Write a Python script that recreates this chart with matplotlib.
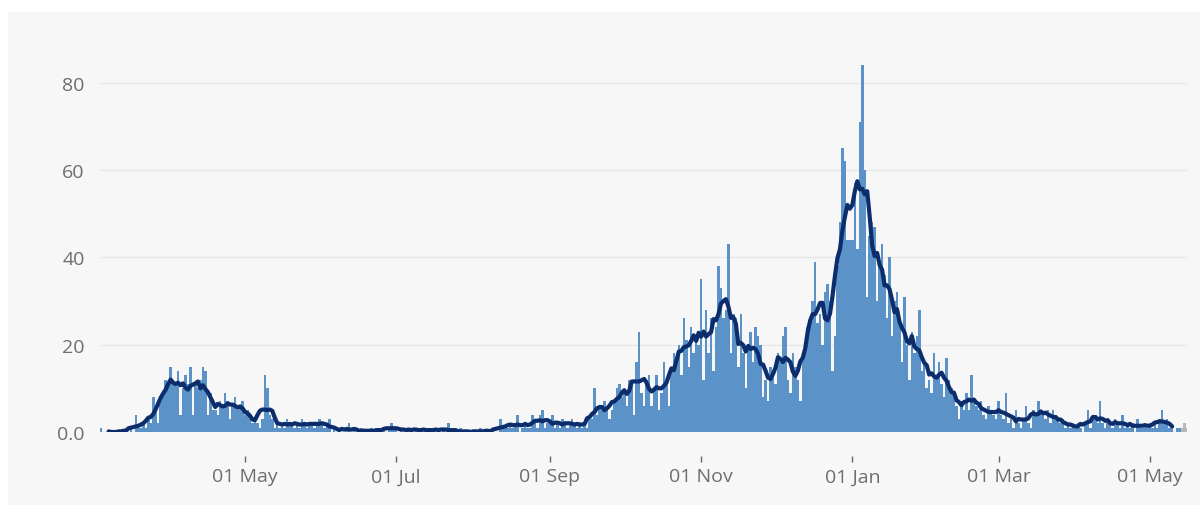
import numpy as np
import pandas as pd
import matplotlib
matplotlib.use("Agg")
import matplotlib.pyplot as plt
import matplotlib.dates as mdates
from matplotlib.patches import Rectangle

plt.rcParams['font.family'] = ['Open Sans', 'DejaVu Sans']

# daily values (2020-03-04 .. 2021-05-13)
mar20 = [1,0,0,0,0,0,0, 0,0,0,1,0,1,0, 4,1,1,2,1,3,2, 8,6,2,7,9,12,11]
apr20 = [15,12,11,14,4,10,13, 11,15,4,11,10,12,15, 14,4,9,5,5,4,7, 6,9,7,3,6,8,5, 6,7]
may20 = [4,5,3,2,3,2,1, 3,13,10,4,3,1,2, 1,2,1,3,2,2,1, 2,1,3,2,1,2,2, 1,2,3]
jun20 = [2,1,2,3,0,1,0, 1,0,0,1,2,0,1, 0,0,1,0,0,0,1, 0,0,1,0,1,0,1, 2,1]
jul20 = [1,0,1,0,0,1,1, 0,1,0,1,0,0,1, 1,0,0,1,0,1,0, 2,0,0,0,0,1,0, 0,0,0]
aug20 = [0,0,0,1,0,0,0, 0,1,0,0,3,1,1, 1,2,1,2,4,0,1, 2,1,1,4,2,1,4, 5,1,2]
sep20 = [2,4,1,2,1,3,2, 1,2,3,2,1,2,1, 2,1,3,3,10,4,6, 5,7,5,3,5,7,10, 11,8]
oct20 = [9,6,12,11,4,16,23, 9,6,12,13,6,10,13, 5,9,16,11,6,14,18, 17,20,13,26,21,15,24, 18,22,20]
nov20 = [35,12,28,18,26,14,24, 38,33,26,28,43,18,27, 26,15,27,18,10,20,23, 16,24,22,20,8,12,7, 15,14]
dec20 = [11,18,16,22,24,12,9, 18,15,12,7,17,20,24, 24,30,39,25,27,20,32, 34,30,14,22,38,48,65, 62,44,44]
jan21 = [44,57,42,71,84,60,31, 45,48,47,30,38,43,36, 26,40,22,30,32,26,16, 31,20,12,23,18,22,28, 14,16,10]
feb21 = [12,9,18,13,16,11,8, 17,12,10,8,6,3,7, 5,9,5,13,7,6,5, 7,4,3,6,5,4,3]
mar21 = [7,4,3,9,2,3,1, 5,2,1,3,6,2,1, 5,4,7,5,4,3,5, 2,5,4,3,2,3,1, 2,1,2]
apr21 = [1,2,1,0,2,5,1, 3,4,2,7,2,1,3, 2,1,3,2,1,4,1, 2,1,2,0,3,1,1, 2,1]
may21 = [2,1,2,1,3,5,2,3,1,1,0,1,1]
incomplete = [1,2,1]  # last days, shown in grey

y_ticks = [0, 20, 40, 60, 80]
y_labels = ['0.0', '20', '40', '60', '80']

daily = np.array(mar20 + apr20 + may20 + jun20 + jul20 + aug20 + sep20 + oct20
                 + nov20 + dec20 + jan21 + feb21 + mar21 + apr21 + may21)
dates = pd.date_range('2020-03-04', periods=len(daily), freq='D')
avg = pd.Series(daily, index=dates).rolling(7, center=True).mean()
grey_dates = pd.date_range(dates[-1] + pd.Timedelta(days=1), periods=len(incomplete), freq='D')

fig = plt.figure(figsize=(12, 5.06), dpi=100)
fig.add_artist(Rectangle((8/1200, 0), 1, 493/506, transform=fig.transFigure,
                         color='#f7f7f7', zorder=-1))
ax = fig.add_axes([100/1200, 73/506, 1087/1200, 393/506])
ax.set_facecolor('none')

ax.bar(dates, daily, width=1.0, color='#5b93c9', linewidth=0, zorder=2)
ax.bar(grey_dates, incomplete, width=1.0, color='#b8b8b8', linewidth=0, zorder=2)
ax.plot(avg.index, avg.values, color='#0c2d6b', lw=3, zorder=3,
        solid_joinstyle='round', solid_capstyle='round')
ax.axhline(0, color='#d2d2d2', lw=1, zorder=1.5)

ax.set_ylim(0, 90)
ax.set_xlim(pd.Timestamp('2020-03-03 12:00'), pd.Timestamp('2021-05-16'))
ax.set_yticks(y_ticks)
ax.set_yticklabels(y_labels)
ax.yaxis.grid(True, color='#e7e7e7', lw=1)
ax.set_axisbelow(True)

for s in ['top', 'right', 'left']:
    ax.spines[s].set_visible(False)
ax.spines['bottom'].set_position(('outward', 17))
ax.spines['bottom'].set_visible(False)

ax.xaxis.set_major_locator(mdates.MonthLocator(bymonth=[1, 3, 5, 7, 9, 11]))
ax.xaxis.set_major_formatter(mdates.DateFormatter('%d %b'))
ax.tick_params(axis='x', length=4.5, width=1, color='#666666', pad=4,
               labelsize=14, labelcolor='#6e6e6e')
ax.tick_params(axis='y', length=0, pad=11, labelsize=14, labelcolor='#6e6e6e')

fig.savefig('out.png', dpi=100)
